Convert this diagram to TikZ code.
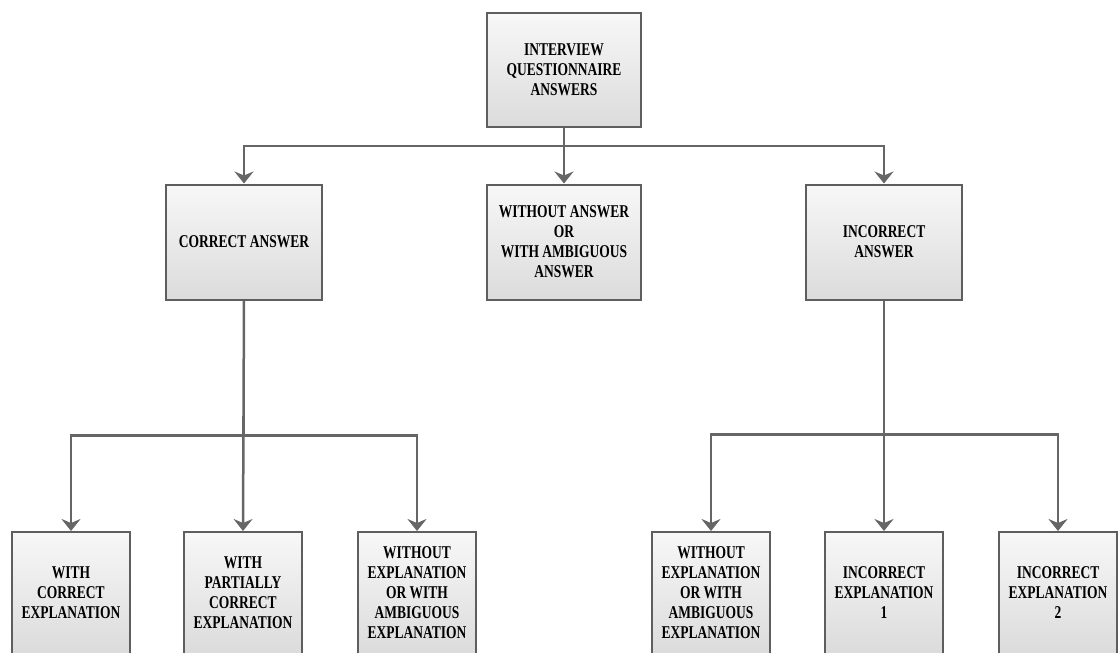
\documentclass[tikz,border=0pt]{standalone}
\usepackage{fontspec}
\usepackage{tikz}
\usetikzlibrary{arrows.meta}
\newfontfamily\boxfont{Liberation Serif}[FakeStretch=0.75]
\definecolor{edgegray}{HTML}{5E5E5E}
\definecolor{linegray}{HTML}{666666}

\begin{document}
\begin{tikzpicture}[x=1pt, y=-1pt,
    box/.style={draw=edgegray, line width=2pt, top color=gray!6, bottom color=gray!28,
        align=center, inner sep=2pt,
        font=\boxfont\bfseries\fontsize{18}{20}\selectfont},
    midbox/.style={box, minimum width=156pt, minimum height=115pt},
    leafbox/.style={box, minimum width=118pt, minimum height=122pt},
    arr/.style={draw=linegray, line width=2.5pt, -{Stealth[width=19pt, length=12pt, inset=4pt]}}]
    \useasboundingbox (0, 0) rectangle (1119, 653);
    \clip (0, 0) rectangle (1119, 653);

    % Level 1
    \node[box, minimum width=154pt, minimum height=114pt] (root) at (564, 70) {INTERVIEW\\QUESTIONNAIRE\\ANSWERS};

    % Level 2
    \node[midbox] (correct) at (244, 242) {CORRECT ANSWER};
    \node[midbox, minimum width=154pt] (noanswer) at (564, 242) {WITHOUT ANSWER\\OR\\WITH AMBIGUOUS\\ANSWER};
    \node[midbox] (incorrect) at (884, 242) {INCORRECT\\ANSWER};

    \draw[arr] (root.south) -- ++(0, 18) -| (correct.north);
    \draw[arr] (root.south) -- ++(0, 18) -| (incorrect.north);
    \draw[arr] (root.south) -- (noanswer.north);

    % Level 3, correct answer
    \node[leafbox] (corexp) at (71, 593) {WITH\\CORRECT\\EXPLANATION};
    \node[leafbox] (partexp) at (243, 593) {WITH\\PARTIALLY\\CORRECT\\EXPLANATION};
    \node[leafbox] (corambig) at (417, 593) {WITHOUT\\EXPLANATION\\OR WITH\\AMBIGUOUS\\EXPLANATION};

    \draw[arr] (correct.south) -- ++(0, 135) -| (corexp.north);
    \draw[arr] (correct.south) -- ++(0, 135) -| (corambig.north);
    \draw[arr] (correct.south) -- (partexp.north);

    % Level 3, incorrect answer
    \node[leafbox] (incambig) at (711, 593) {WITHOUT\\EXPLANATION\\OR WITH\\AMBIGUOUS\\EXPLANATION};
    \node[leafbox] (incexp1) at (884, 593) {INCORRECT\\EXPLANATION\\1};
    \node[leafbox] (incexp2) at (1058, 593) {INCORRECT\\EXPLANATION\\2};

    \draw[arr] (incorrect.south) -- ++(0, 134) -| (incambig.north);
    \draw[arr] (incorrect.south) -- ++(0, 134) -| (incexp2.north);
    \draw[arr] (incorrect.south) -- (incexp1.north);
\end{tikzpicture}
\end{document}
